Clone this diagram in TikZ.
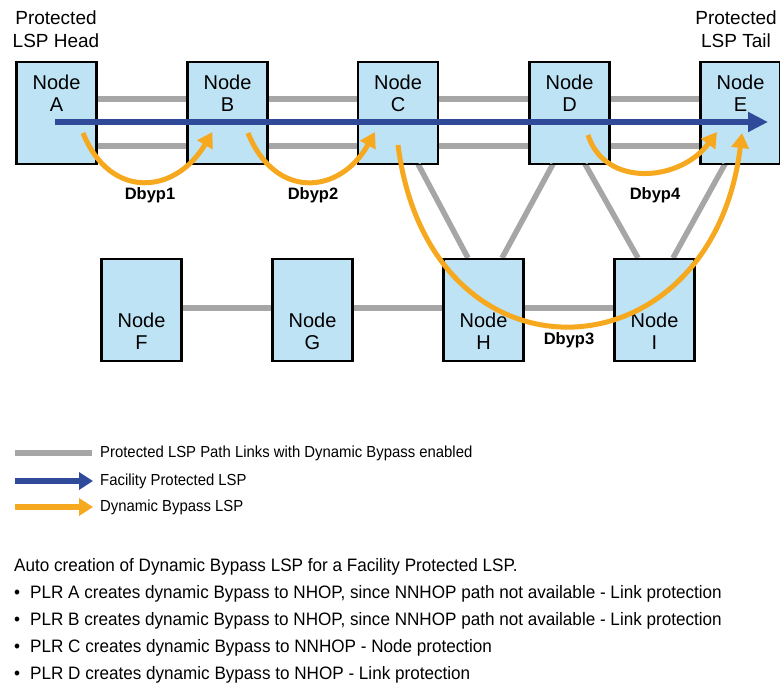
\documentclass[tikz,border=0pt]{standalone}
\usepackage{fontspec}
\setmainfont{Liberation Sans}
\newfontfamily\narrowfont[FakeStretch=0.95]{Liberation Sans}
\newfontfamily\legfont[FakeStretch=0.93]{Liberation Sans}
\usetikzlibrary{arrows.meta,calc}
\definecolor{boxfill}{HTML}{BDE3F5}
\definecolor{linkgray}{HTML}{A6A6A6}
\definecolor{lspblue}{HTML}{2F4A99}
\definecolor{bypassorange}{HTML}{F6A81E}
\begin{document}
\begin{tikzpicture}[x=1pt,y=-1pt,
  nodebox/.style={draw=black,line width=1.8pt,fill=boxfill,minimum width=79pt,minimum height=101pt,inner sep=0pt},
  nodetext/.style={font=\fontsize{20}{22}\selectfont,align=center,inner sep=0pt},
  link/.style={linkgray,line width=5.5pt},
  facility/.style={lspblue,line width=6pt,-{Triangle[width=19pt,length=20pt]}},
  bypass/.style={bypassorange,line width=5pt,-{Triangle[width=17pt,length=15pt]}},
  bylabel/.style={font=\bfseries\fontsize{16.5}{18}\selectfont,inner sep=0pt},
  toplabel/.style={font=\fontsize{19}{23}\selectfont,align=center,inner sep=0pt},
  legtext/.style={font=\legfont\fontsize{16}{18}\selectfont,anchor=west,inner sep=0pt},
  bodytext/.style={font=\narrowfont\fontsize{18}{20}\selectfont,anchor=west,inner sep=0pt}]
\useasboundingbox (0,0) rectangle (780,691);

% links between top row
\coordinate (l1a) at (96,99);  \coordinate (l1b) at (701,99);
\coordinate (l2a) at (96,146); \coordinate (l2b) at (701,146);
\draw[link] (l1a) -- (l1b);
\draw[link] (l2a) -- (l2b);

% top row boxes
\node[nodebox] (A) at (56.5,113) {};
\node[nodebox] (B) at (227.5,113) {};
\node[nodebox] (C) at (398,113) {};
\node[nodebox] (D) at (569.5,113) {};
\node[nodebox] (E) at (740.5,113) {};
% bottom row boxes
\node[nodebox] (F) at (141.5,310) {};
\node[nodebox] (G) at (312.5,310) {};
\node[nodebox] (H) at (483.5,310) {};
\node[nodebox] (I) at (654.5,310) {};

% links among lower nodes
\draw[link] (F.east |- 0,308) -- (G.west |- 0,308);
\draw[link] (G.east |- 0,308) -- (H.west |- 0,308);
\draw[link] (H.east |- 0,308) -- (I.west |- 0,308);
\draw[link] (418,164) -- (468,258);
\draw[link] (553,164) -- (502,258);
\draw[link] (585,164) -- (638,258);
\draw[link] (725,164) -- (673,258);

% redraw box borders to cover link ends
\foreach \n in {A,B,C,D,E,F,G,H,I}{
  \draw[black,line width=1.8pt] (\n.north west) rectangle (\n.south east);
}

% texts in boxes
\node[nodetext] (At) at ($(A.center)+(0,-20)$) {Node\\A};
\node[nodetext] (Bt) at ($(B.center)+(0,-20)$) {Node\\B};
\node[nodetext] (Ct) at ($(C.center)+(0,-20)$) {Node\\C};
\node[nodetext] (Dt) at ($(D.center)+(0,-20)$) {Node\\D};
\node[nodetext] (Et) at ($(E.center)+(0,-20)$) {Node\\E};
\node[nodetext] (Ft) at ($(F.center)+(0,21)$) {Node\\F};
\node[nodetext] (Gt) at ($(G.center)+(0,21)$) {Node\\G};
\node[nodetext] (Ht) at ($(H.center)+(0,21)$) {Node\\H};
\node[nodetext] (It) at ($(I.center)+(0,21)$) {Node\\I};

% facility protected LSP
\coordinate (fstart) at ($(A.center)+(-1.5,9)$);
\coordinate (fend) at ($(E.center)+(27.5,9)$);
\draw[facility] (fstart) -- (fend);

% dynamic bypasses
\draw[bypass] ($(A.center)+(26.5,20)$) .. controls (110,200) and (175,195) .. ($(B.center)+(-15,19)$);
\draw[bypass] ($(B.center)+(20.5,20)$) .. controls (275,200) and (340,195) .. ($(C.center)+(-23,19)$);
\draw[bypass] ($(C.center)+(0,32)$) .. controls (430,395) and (712,380) .. ($(E.center)+(1.5,20)$);
\draw[bypass] ($(D.center)+(18.5,22)$) .. controls (605,188) and (680,182) .. ($(E.center)+(-23.5,19)$);

\node[bylabel] (d1) at (150,195) {Dbyp1};
\node[bylabel] (d2) at (313,195) {Dbyp2};
\node[bylabel] (d3) at (569,340) {Dbyp3};
\node[bylabel] (d4) at (655,195) {Dbyp4};

% top labels
\node[toplabel] (head) at (56,29) {Protected\\LSP Head};
\node[toplabel] (tail) at (736,29) {Protected\\LSP Tail};

% legend
\coordinate (g1) at (15,453); \coordinate (g2) at (92,453);
\draw[link] (g1) -- (g2);
\node[legtext] (lg1) at (100,453) {Protected LSP Path Links with Dynamic Bypass enabled};
\coordinate (b1) at (15,481); \coordinate (b2) at (93,481);
\draw[lspblue,line width=5.5pt,-{Triangle[width=17pt,length=14pt]}] (b1) -- (b2);
\node[legtext] (lg2) at (100,481) {Facility Protected LSP};
\coordinate (o1) at (15,507); \coordinate (o2) at (93,507);
\draw[bypassorange,line width=5.5pt,-{Triangle[width=17pt,length=14pt]}] (o1) -- (o2);
\node[legtext] (lg3) at (100,507) {Dynamic Bypass LSP};

% body text
\node[bodytext] (t0) at (14,567) {Auto creation of Dynamic Bypass LSP for a Facility Protected LSP.};
\node[bodytext] (t1) at (14,594) {\textbullet\hspace{10pt}PLR A creates dynamic Bypass to NHOP, since NNHOP path not available - Link protection};
\node[bodytext] (t2) at (14,621) {\textbullet\hspace{10pt}PLR B creates dynamic Bypass to NHOP, since NNHOP path not available - Link protection};
\node[bodytext] (t3) at (14,648) {\textbullet\hspace{10pt}PLR C creates dynamic Bypass to NNHOP - Node protection};
\node[bodytext] (t4) at (14,675) {\textbullet\hspace{10pt}PLR D creates dynamic Bypass to NHOP - Link protection};
\end{tikzpicture}
\end{document}
